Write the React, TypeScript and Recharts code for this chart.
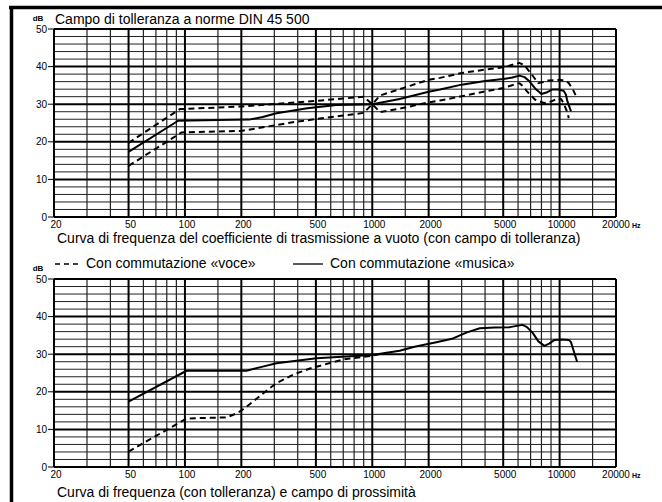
import React from 'react';
import { LineChart, Line, XAxis, YAxis, ReferenceLine } from 'recharts';

const FONT = '"Liberation Sans", Arial, Helvetica, sans-serif';

const xTicks = [20, 50, 100, 200, 500, 1000, 2000, 5000, 10000, 20000];
const yTicks = [0, 10, 20, 30, 40, 50];
const majorFreqs = [20, 50, 100, 200, 500, 1000, 2000, 5000, 10000, 20000];
const minorFreqs = [30, 40, 60, 70, 80, 90, 150, 300, 400, 600, 700, 800, 900, 1500, 3000, 4000, 6000, 7000, 8000, 9000, 15000];
const majorLevels = [0, 10, 20, 30, 40, 50];
const minorLevels = [2, 4, 6, 8, 12, 14, 16, 18, 22, 24, 26, 28, 32, 34, 36, 38, 42, 44, 46, 48];

// Top chart: response with tolerance field (DIN 45 500)
const topMidFreq = [50, 92, 150, 220, 260, 308, 450, 644, 1000, 1400, 2000, 2300, 3000, 4000, 5000, 5600, 6100, 6500, 6900, 7400, 8000, 8500, 9100, 9800, 10500, 10800, 11000, 11500];
const topMidDb = [17.3, 25.6, 25.8, 25.9, 26.6, 27.6, 28.9, 29.8, 30.0, 31.4, 33.3, 33.9, 35.2, 36.2, 36.7, 37.1, 37.6, 37.2, 36.1, 34.2, 32.7, 33.1, 33.9, 33.9, 33.6, 32.6, 30.8, 28.1];

const topUpperFreq = [50, 94, 202, 400, 700, 900, 1000, 1100, 1400, 2000, 2300, 3000, 4000, 5000, 5700, 6100, 6500, 7000, 7700, 8200, 8700, 10000, 10800, 11200, 11800, 12400];
const topUpperDb = [19.7, 28.7, 29.4, 30.5, 31.5, 32.0, 30.0, 32.3, 34.0, 36.5, 37.0, 38.3, 39.2, 39.8, 40.6, 41.0, 40.3, 38.3, 35.6, 35.9, 36.3, 36.5, 36.2, 35.6, 33.8, 31.6];

const topLowerFreq = [50, 96, 200, 400, 700, 900, 1000, 1100, 1400, 2000, 2300, 3000, 4000, 5000, 5700, 6100, 6400, 6700, 7400, 8300, 9000, 9800, 10200, 10500, 10900, 11200];
const topLowerDb = [13.6, 22.5, 22.9, 25.4, 27.0, 27.7, 30.0, 27.9, 28.8, 30.5, 31.0, 32.1, 33.4, 34.3, 35.2, 35.6, 34.7, 33.4, 31.2, 30.3, 30.7, 31.6, 31.3, 30.3, 28.3, 26.3];

// Bottom chart: «musica» (solid) and «voce» (dashed)
const musicaFreq = [50, 102, 213, 260, 308, 503, 1000, 1400, 1680, 2200, 2700, 3200, 3750, 4500, 5440, 6000, 6340, 6700, 7200, 7700, 8300, 8800, 9400, 10300, 11200, 11500, 11700, 12400];
const musicaDb = [17.4, 25.6, 25.6, 26.7, 27.6, 28.9, 29.8, 30.9, 32.0, 33.2, 34.2, 35.8, 36.9, 37.1, 37.2, 37.6, 37.8, 37.2, 35.6, 33.4, 32.2, 32.8, 33.8, 33.9, 33.8, 33.2, 32.0, 28.0];

const voceFreq = [50, 102, 167, 190, 213, 260, 308, 380, 465, 700, 1000, 1200];
const voceDb = [4.1, 12.9, 13.2, 14.3, 16.0, 19.5, 22.3, 24.6, 26.2, 28.6, 29.6, 30.4];

const zip = (f: number[], d: number[]) => f.map((v, i) => ({ f: v, db: d[i] }));

type Series = { key: string; data: { f: number; db: number }[]; dashed: boolean };

const topSeries: Series[] = [
  { key: 'upper', data: zip(topUpperFreq, topUpperDb), dashed: true },
  { key: 'lower', data: zip(topLowerFreq, topLowerDb), dashed: true },
  { key: 'mid', data: zip(topMidFreq, topMidDb), dashed: false },
];
const bottomSeries: Series[] = [
  { key: 'voce', data: zip(voceFreq, voceDb), dashed: true },
  { key: 'musica', data: zip(musicaFreq, musicaDb), dashed: false },
];

const XTick = (props: any) => {
  const { x, y, payload } = props;
  const v = payload.value;
  if (v === 20000) {
    return (
      <g>
        <text x={x} y={y + 11} textAnchor="middle" fontSize={10} fontFamily={FONT} fill="#000">20000</text>
        <text x={x + 16} y={y + 11} fontSize={7} fontWeight="bold" fontFamily={FONT} fill="#000">Hz</text>
      </g>
    );
  }
  return (
    <text x={x + 2} y={y + 11} textAnchor="middle" fontSize={10} fontFamily={FONT} fill="#000">{v}</text>
  );
};

const Chart = ({ top, series }: { top: number; series: Series[] }) => (
  <div style={{ position: 'absolute', left: 0, top }}>
    <LineChart width={662} height={237} margin={{ top: 29, right: 46, left: 24, bottom: 0 }}>
      <XAxis
        type="number"
        dataKey="f"
        scale="log"
        domain={[20, 20000]}
        ticks={xTicks}
        interval={0}
        axisLine={false}
        tickLine={false}
        tickSize={0}
        tickMargin={0}
        height={20}
        tick={(p: any) => <XTick {...p} />}
        allowDataOverflow
      />
      <YAxis
        type="number"
        domain={[0, 50]}
        ticks={yTicks}
        interval={0}
        axisLine={false}
        width={30}
        tickSize={6}
        tickMargin={1}
        tickLine={{ stroke: '#000', strokeWidth: 1 }}
        tick={{ fill: '#000', fontSize: 10, fontFamily: FONT }}
        allowDataOverflow
      />
      {minorLevels.map((v) => (
        <ReferenceLine key={'h' + v} y={v} stroke="#222" strokeWidth={1} />
      ))}
      {minorFreqs.map((v) => (
        <ReferenceLine key={'v' + v} x={v} stroke="#222" strokeWidth={1.2} />
      ))}
      {majorLevels.map((v) => (
        <ReferenceLine key={'H' + v} y={v} stroke="#000" strokeWidth={2} />
      ))}
      {majorFreqs.map((v) => (
        <ReferenceLine key={'V' + v} x={v} stroke="#000" strokeWidth={2} />
      ))}
      {series.map((s) => (
        <Line
          key={s.key}
          data={s.data}
          dataKey="db"
          type="linear"
          stroke="#000"
          strokeWidth={2}
          strokeLinejoin="round"
          strokeDasharray={s.dashed ? '6 4' : undefined}
          dot={false}
          activeDot={false}
          isAnimationActive={false}
        />
      ))}
    </LineChart>
  </div>
);

export default function App() {
  return (
    <div style={{ position: 'absolute', left: 0, top: 0, width: 662, height: 502, background: '#fff', overflow: 'hidden' }}>
      <Chart top={0} series={topSeries} />
      <Chart top={250} series={bottomSeries} />
      <svg width={662} height={502} style={{ position: 'absolute', left: 0, top: 0, pointerEvents: 'none' }} fontFamily={FONT}>
        <line x1={9} y1={7.5} x2={662} y2={7.5} stroke="#000" strokeWidth={3.5} />
        <line x1={11.5} y1={6} x2={11.5} y2={502} stroke="#000" strokeWidth={3.5} />
        <text x={38} y={21} fontSize={8} fontWeight="bold" textAnchor="middle" fill="#000">dB</text>
        <text x={55} y={24} fontSize={14} fill="#000">Campo di tolleranza a norme DIN 45 500</text>
        <text x={57} y={243} fontSize={14} fill="#000">Curva di frequenza del coefficiente di trasmissione a vuoto (con campo di tolleranza)</text>
        <line x1={55} y1={264} x2={79} y2={264} stroke="#000" strokeWidth={1.3} strokeDasharray="5 4" />
        <text x={86} y={268} fontSize={14} fill="#000">Con commutazione «voce»</text>
        <line x1={293} y1={264} x2={323} y2={264} stroke="#000" strokeWidth={1.3} />
        <text x={330} y={268} fontSize={14} fill="#000">Con commutazione «musica»</text>
        <text x={38} y={271} fontSize={8} fontWeight="bold" textAnchor="middle" fill="#000">dB</text>
        <text x={57} y={497} fontSize={14} fill="#000">Curva di frequenza (con tolleranza) e campo di prossimità</text>
      </svg>
    </div>
  );
}
